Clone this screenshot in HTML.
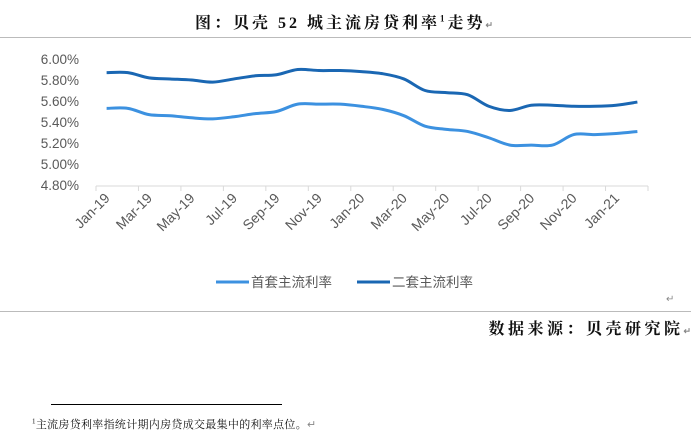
<!DOCTYPE html>
<html><head><meta charset="utf-8"><style>
body{margin:0;width:691px;height:441px;background:#fff;overflow:hidden;position:relative;font-family:"Liberation Serif","Noto Serif CJK SC",serif}
.abs{position:absolute}
</style></head><body>
<div class="abs" style="left:0;width:691px;top:10px;text-align:center;font-size:16px;font-weight:bold;letter-spacing:3px;color:#111">图：贝壳 52 城主流房贷利率<sup style="font-size:9px">1</sup>走势<span style="font-size:9px;color:#888">↵</span></div>
<div class="abs" style="left:0;top:37px;width:691px;height:1px;background:#bbb"></div>
<svg class="abs" style="left:0;top:0" width="691" height="441">
<g id="g"></g>
</svg>
<div class="abs" style="left:0;top:311px;width:691px;height:1px;background:#bbb"></div>
<div class="abs" style="left:666px;top:294px;font-size:10px;color:#888">↵</div>
<div class="abs" style="right:0px;top:316px;font-size:16px;font-weight:bold;letter-spacing:3.5px;color:#111">数据来源：贝壳研究院<span style="font-size:9px;color:#888;letter-spacing:0">↵</span></div>
<div class="abs" style="left:51px;top:404px;width:231px;height:1px;background:#000"></div>
<div class="abs" style="left:32px;top:416px;font-size:11px;color:#111;letter-spacing:0.3px"><sup style="font-size:7px">1</sup>主流房贷利率指统计期内房贷成交最集中的利率点位。<span style="color:#888">↵</span></div>
<script>
const categories=["Jan-19","Feb-19","Mar-19","Apr-19","May-19","Jun-19","Jul-19","Aug-19","Sep-19","Oct-19","Nov-19","Dec-19","Jan-20","Feb-20","Mar-20","Apr-20","May-20","Jun-20","Jul-20","Aug-20","Sep-20","Oct-20","Nov-20","Dec-20","Jan-21","Feb-21"];
const firstRate=[5.53,5.53,5.47,5.46,5.44,5.43,5.45,5.48,5.50,5.57,5.57,5.57,5.55,5.52,5.46,5.36,5.33,5.31,5.25,5.18,5.18,5.18,5.28,5.28,5.29,5.31];
const secondRate=[5.87,5.87,5.82,5.81,5.80,5.78,5.81,5.84,5.85,5.90,5.89,5.89,5.88,5.86,5.81,5.70,5.68,5.66,5.55,5.51,5.56,5.56,5.55,5.55,5.56,5.59];
const yTicks=[4.8,5.0,5.2,5.4,5.6,5.8,6.0];
const seriesNames=["首套主流利率","二套主流利率"];
const NS="http://www.w3.org/2000/svg",g=document.getElementById('g');
const x0=96,x1=648,yTop=59,yBot=185,yMin=4.8,yMax=6.0;
const step=(x1-x0)/categories.length;
const xs=i=>x0+step*(i+0.5);
const ys=v=>yBot-(v-yMin)/(yMax-yMin)*(yBot-yTop);
function mk(t,a){const e=document.createElementNS(NS,t);for(const k in a)e.setAttribute(k,a[k]);g.appendChild(e);return e;}
yTicks.forEach(v=>{const t=mk('text',{x:79,y:ys(v)+5,'text-anchor':'end','font-size':13.5,fill:'#595959','font-family':'Liberation Sans, sans-serif'});t.textContent=v.toFixed(2)+'%';

});
const ax=mk('line',{x1:x0,x2:x1,y1:yBot+1,y2:yBot+1,stroke:'#d9d9d9'});


for(let i=0;i<=categories.length;i+=2){const l=mk('line',{x1:x0+step*i,x2:x0+step*i,y1:yBot+1,y2:yBot+6,stroke:'#d9d9d9'});

}
categories.forEach((c,i)=>{if(i%2)return;const x=xs(i)+4,y=yBot+14;const t=mk('text',{x:x,y:y,'text-anchor':'end','font-size':14,fill:'#595959','font-family':'Liberation Sans, sans-serif',transform:`rotate(-45 ${x} ${y})`});t.textContent=c;

});
function path(vals){const p=vals.map((v,i)=>[xs(i),ys(v)]);let d=`M${p[0][0]},${p[0][1]}`;
for(let i=0;i<p.length-1;i++){const a=p[i-1]||p[i],b=p[i],c=p[i+1],e=p[i+2]||c;const k=1/6;
d+=` C${b[0]+(c[0]-a[0])*k},${b[1]+(c[1]-a[1])*k} ${c[0]-(e[0]-b[0])*k},${c[1]-(e[1]-b[1])*k} ${c[0]},${c[1]}`;}return d;}
const colors=['#3c91e0','#1a67b3'];
[firstRate,secondRate].forEach((s,j)=>{const p=mk('path',{d:path(s),fill:'none',stroke:colors[j],'stroke-width':3,'stroke-linejoin':'round'});

});
const lx=[216,357];
seriesNames.forEach((n,j)=>{const l=mk('line',{x1:lx[j],x2:lx[j]+33,y1:282,y2:282,stroke:colors[j],'stroke-width':3});


const t=mk('text',{x:lx[j]+35,y:287,'font-size':13.5,fill:'#595959','font-family':'Liberation Sans, Noto Sans CJK SC, sans-serif'});t.textContent=n;

});
</script>
</body></html>
